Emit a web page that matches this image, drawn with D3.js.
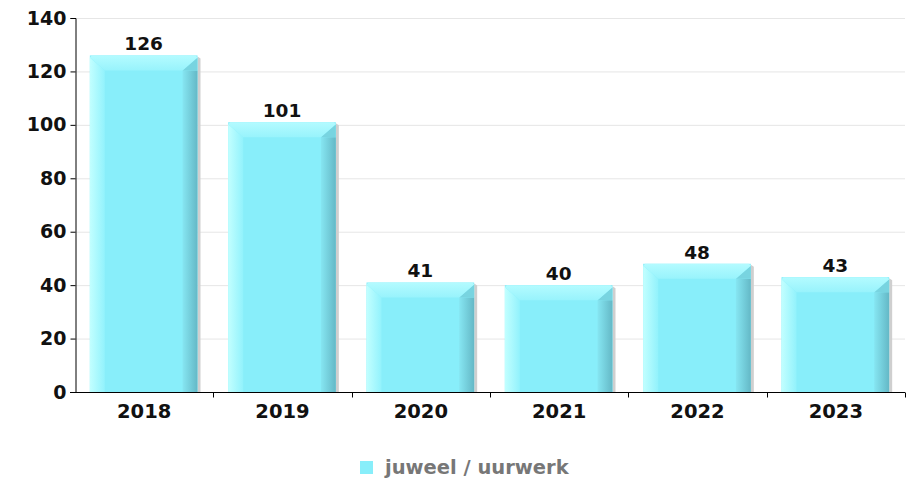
<!DOCTYPE html>
<html><head><meta charset="utf-8">
<script src="https://cdn.jsdelivr.net/npm/d3@7/dist/d3.min.js"></script>
<style>body{margin:0;background:#fff}svg{display:block}</style>
</head><body><svg id="c" width="917" height="481"></svg>
<script>
const categories = ["2018","2019","2020","2021","2022","2023"];
const values = [126,101,41,40,48,43];
const yTicks = [0,20,40,60,80,100,120,140];
const seriesName = "juweel / uurwerk";

const svg = d3.select("#c");
const font = "'DejaVu Sans', sans-serif";
const x = d3.scaleBand().domain(categories).range([75,905]).paddingInner(0.2).paddingOuter(0.1);
const y = d3.scaleLinear().domain([0,140]).range([392,18]);

const defs = svg.append("defs");
function grad(id, stops, x2, y2){
  const g = defs.append("linearGradient").attr("id",id).attr("x1",0).attr("y1",0).attr("x2",x2).attr("y2",y2);
  stops.forEach(s=>g.append("stop").attr("offset",s[0]).attr("stop-color",s[1]));
}
grad("gl", [[0,"#c2ffff"],[1,"#92f2fc"]], 1, 0);
grad("gr", [[0,"#86e6f2"],[1,"#64b8c6"]], 1, 0);
grad("gt", [[0,"#b4fbff"],[1,"#98f3fc"]], 0, 1);

// gridlines
svg.append("g").selectAll("line").data(yTicks.filter(d=>d>0)).join("line")
  .attr("x1",75).attr("x2",905).attr("y1",d=>y(d)+0.5).attr("y2",d=>y(d)+0.5)
  .attr("stroke","#e6e6e6").attr("stroke-width",1);

// bars
const b = 15;
const bars = svg.append("g").selectAll("g").data(values).join("g");
bars.each(function(v,i){
  const g = d3.select(this);
  const x0 = x(categories[i]) + 1, x1 = x0 + x.bandwidth() - 3;
  const y0 = y(v), y1 = y(0);
  g.append("path").attr("d",`M${x1},${y0+1}L${x1+3},${y0+3}L${x1+3},${y1}L${x1},${y1}Z`).attr("fill","#cfcfcf");
  g.append("rect").attr("x",x0).attr("y",y0).attr("width",x1-x0).attr("height",y1-y0).attr("fill","#88eefa");
  g.append("path").attr("d",`M${x0},${y0+2}L${x0+b},${y0+b}L${x0+b},${y1}L${x0},${y1}Z`).attr("fill","url(#gl)");
  g.append("path").attr("d",`M${x1},${y0+b}L${x1},${y1}L${x1-b},${y1}L${x1-b},${y0+b}Z`).attr("fill","url(#gr)");
  g.append("path").attr("d",`M${x1-b},${y0+b}L${x1},${y0+b}L${x1},${y0+2}Z`).attr("fill","#78d4e0");
  g.append("path").attr("d",`M${x0+2},${y0}L${x1-2},${y0}L${x1},${y0+2}L${x1-b},${y0+b}L${x0+b},${y0+b}L${x0},${y0+2}Z`).attr("fill","url(#gt)");
  g.append("text").attr("x",(x0+x1)/2).attr("y",y0-5).attr("text-anchor","middle")
    .attr("font-family",font).attr("font-weight","bold").attr("font-size",18.5).attr("fill","#111").text(v);
});

// axes
const ya = svg.append("g").attr("transform","translate(75.5,0)")
  .call(d3.axisLeft(y).tickValues(yTicks).tickSize(5).tickPadding(4));
ya.select(".domain").attr("stroke","#000");
ya.selectAll("text").attr("font-family",font).attr("font-weight","bold").attr("font-size",19).attr("fill","#111");

const xa = svg.append("g").attr("transform","translate(0,392.5)");
xa.append("line").attr("x1",70).attr("x2",905).attr("stroke","#000");
const bounds = d3.range(1,7).map(i=>75 + i*x.step());
xa.selectAll("line.t").data(bounds).join("line").attr("class","t")
  .attr("x1",d=>Math.round(d)+0.5).attr("x2",d=>Math.round(d)+0.5).attr("y1",0).attr("y2",5).attr("stroke","#000");
xa.selectAll("text").data(categories).join("text")
  .attr("x",d=>x(d)+x.bandwidth()/2).attr("y",25.5).attr("text-anchor","middle")
  .attr("font-family",font).attr("font-weight","bold").attr("font-size",19.5).attr("fill","#111").text(d=>d);

// legend
const lg = svg.append("g");
lg.append("rect").attr("x",360).attr("y",461).attr("width",13).attr("height",13).attr("fill","#88eefa");
lg.append("text").attr("x",385).attr("y",474).attr("font-family",font).attr("font-weight","bold")
  .attr("font-size",19.5).attr("fill","#777").text(seriesName);
</script></body></html>
